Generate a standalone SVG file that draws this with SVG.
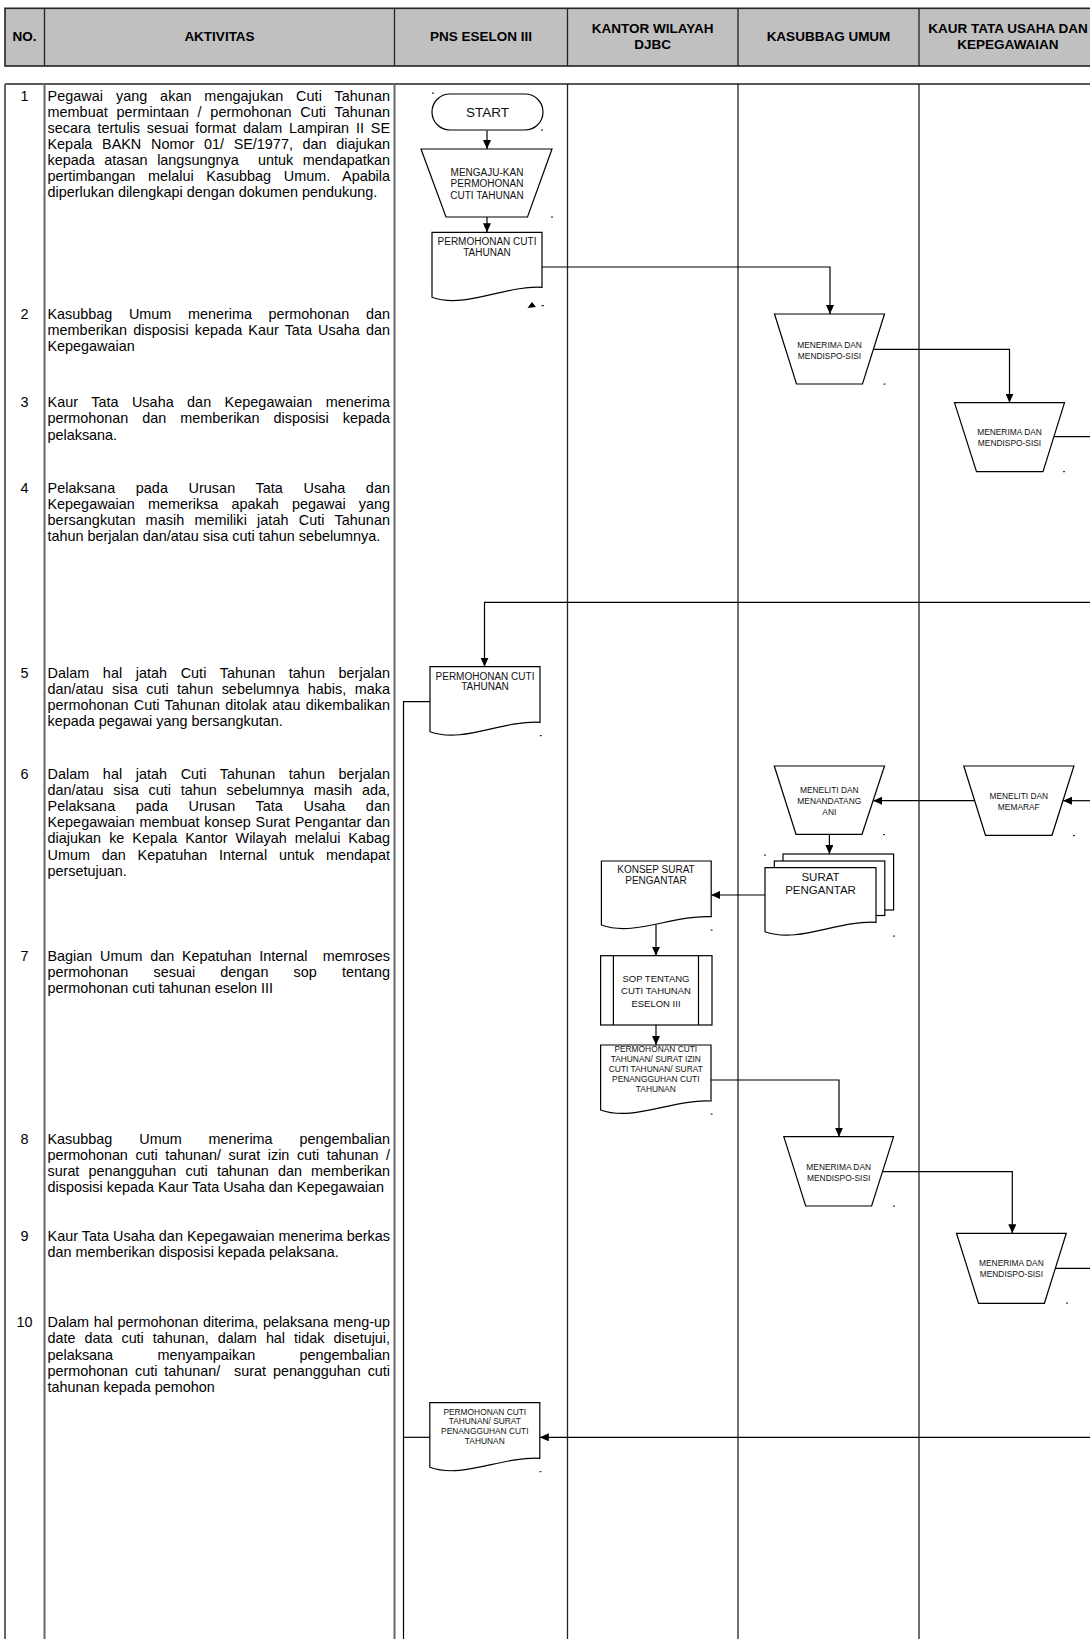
<svg xmlns="http://www.w3.org/2000/svg" width="1090" height="1639" viewBox="0 0 1090 1639">
<style>
.hd{font-family:"Liberation Sans",Arial,sans-serif;font-weight:bold;font-size:13.5px;text-anchor:middle;fill:#000}
.bd{font-family:"Liberation Sans",Arial,sans-serif;font-size:14.4px;fill:#000}
.num{text-anchor:middle}
.sh{fill:#fff;stroke:#000;stroke-width:1.2}
.st{font-family:"Liberation Sans",Arial,sans-serif;text-anchor:middle;fill:#111}
.s10{font-size:10px}
.s84{font-size:8.4px}
.s95{font-size:9.5px}
.s115{font-size:11.5px}
.s135{font-size:13.5px}
.cn{fill:none;stroke:#000;stroke-width:1.2}
.gl{stroke:#666;stroke-width:2}
.dl{stroke:#222;stroke-width:1.3}
.mk{fill:#333}
</style>
<defs>
<marker id="ah" markerWidth="9" markerHeight="8" refX="9" refY="4" orient="auto" markerUnits="userSpaceOnUse"><path d="M0,0 L9,4 L0,8 Z" fill="#000"/></marker>
</defs>
<rect x="0" y="0" width="1090" height="1639" fill="#fff"/>

<g id="header">
<rect x="5" y="8.3" width="1095" height="57.7" fill="#c0c0c0" stroke="#222" stroke-width="1.6"/>
<line x1="44.5" y1="8.3" x2="44.5" y2="66" class="dl"/>
<line x1="394.5" y1="8.3" x2="394.5" y2="66" class="dl"/>
<line x1="567.5" y1="8.3" x2="567.5" y2="66" class="dl"/>
<line x1="738" y1="8.3" x2="738" y2="66" class="dl"/>
<line x1="919" y1="8.3" x2="919" y2="66" class="dl"/>
<text class="hd" x="24.5" y="40.5">NO.</text>
<text class="hd" x="219.5" y="40.5">AKTIVITAS</text>
<text class="hd" x="481" y="40.5">PNS ESELON III</text>
<text class="hd" x="652.7" y="32.8">KANTOR WILAYAH</text>
<text class="hd" x="652.7" y="49">DJBC</text>
<text class="hd" x="828.5" y="40.5">KASUBBAG UMUM</text>
<text class="hd" x="1008" y="32.8">KAUR TATA USAHA DAN</text>
<text class="hd" x="1008" y="49">KEPEGAWAIAN</text>
</g>

<g id="table">
<line x1="5" y1="84" x2="1090" y2="84" stroke="#222" stroke-width="1.6"/>
<line x1="5" y1="84" x2="5" y2="1639" class="gl"/>
<line x1="44.5" y1="84" x2="44.5" y2="1639" class="gl"/>
<line x1="394.5" y1="84" x2="394.5" y2="1639" class="gl"/>
<line x1="567.5" y1="84" x2="567.5" y2="1639" class="dl"/>
<line x1="738" y1="84" x2="738" y2="1639" class="dl"/>
<line x1="919" y1="84" x2="919" y2="1639" class="dl"/>
</g>

<g id="numbers" class="bd num">
<text x="24.5" y="100.5">1</text>
<text x="24.5" y="319">2</text>
<text x="24.5" y="407.2">3</text>
<text x="24.5" y="492.7">4</text>
<text x="24.5" y="678">5</text>
<text x="24.5" y="778.8">6</text>
<text x="24.5" y="961">7</text>
<text x="24.5" y="1143.5">8</text>
<text x="24.5" y="1241">9</text>
<text x="24.5" y="1327.3">10</text>
</g>

<g id="aktivitas" class="bd">
<text x="47.5" y="100.5" word-spacing="8.78" textLength="342.5" lengthAdjust="spacing">Pegawai yang akan mengajukan Cuti Tahunan</text>
<text x="47.5" y="116.65" word-spacing="4.64" textLength="342.5" lengthAdjust="spacing">membuat permintaan / permohonan Cuti Tahunan</text>
<text x="47.5" y="132.8" word-spacing="2.86" textLength="342.5" lengthAdjust="spacing">secara tertulis sesuai format dalam Lampiran II SE</text>
<text x="47.5" y="148.95" word-spacing="5.72" textLength="342.5" lengthAdjust="spacing">Kepala BAKN Nomor 01/ SE/1977, dan diajukan</text>
<text x="47.5" y="165.1" word-spacing="5.58" textLength="342.5" lengthAdjust="spacing">kepada atasan langsungnya&#160; untuk mendapatkan</text>
<text x="47.5" y="181.25" word-spacing="8.75" textLength="342.5" lengthAdjust="spacing">pertimbangan melalui Kasubbag Umum. Apabila</text>
<text x="47.5" y="197.4">diperlukan dilengkapi dengan dokumen pendukung.</text>

<text x="47.5" y="319" word-spacing="12.6" textLength="342.5" lengthAdjust="spacing">Kasubbag Umum menerima permohonan dan</text>
<text x="47.5" y="335.15" word-spacing="2.0" textLength="342.5" lengthAdjust="spacing">memberikan disposisi kepada Kaur Tata Usaha dan</text>
<text x="47.5" y="351.3">Kepegawaian</text>

<text x="47.5" y="407.2" word-spacing="9.28" textLength="342.5" lengthAdjust="spacing">Kaur Tata Usaha dan Kepegawaian menerima</text>
<text x="47.5" y="423.35" word-spacing="10" textLength="342.5" lengthAdjust="spacing">permohonan dan memberikan disposisi kepada</text>
<text x="47.5" y="439.5">pelaksana.</text>

<text x="47.5" y="492.7" word-spacing="16.48" textLength="342.5" lengthAdjust="spacing">Pelaksana pada Urusan Tata Usaha dan</text>
<text x="47.5" y="508.85" word-spacing="9.2" textLength="342.5" lengthAdjust="spacing">Kepegawaian memeriksa apakah pegawai yang</text>
<text x="47.5" y="525" word-spacing="6.08" textLength="342.5" lengthAdjust="spacing">bersangkutan masih memiliki jatah Cuti Tahunan</text>
<text x="47.5" y="541.15">tahun berjalan dan/atau sisa cuti tahun sebelumnya.</text>

<text x="47.5" y="678" word-spacing="9.46" textLength="342.5" lengthAdjust="spacing">Dalam hal jatah Cuti Tahunan tahun berjalan</text>
<text x="47.5" y="694.15" word-spacing="4.52" textLength="342.5" lengthAdjust="spacing">dan/atau sisa cuti tahun sebelumnya habis, maka</text>
<text x="47.5" y="710.3" word-spacing="1.26" textLength="342.5" lengthAdjust="spacing">permohonan Cuti Tahunan ditolak atau dikembalikan</text>
<text x="47.5" y="726.45">kepada pegawai yang bersangkutan.</text>

<text x="47.5" y="778.8" word-spacing="9.46" textLength="342.5" lengthAdjust="spacing">Dalam hal jatah Cuti Tahunan tahun berjalan</text>
<text x="47.5" y="794.95" word-spacing="5.72" textLength="342.5" lengthAdjust="spacing">dan/atau sisa cuti tahun sebelumnya masih ada,</text>
<text x="47.5" y="811.1" word-spacing="16.48" textLength="342.5" lengthAdjust="spacing">Pelaksana pada Urusan Tata Usaha dan</text>
<text x="47.5" y="827.25" word-spacing="0.78" textLength="342.5" lengthAdjust="spacing">Kepegawaian membuat konsep Surat Pengantar dan</text>
<text x="47.5" y="843.4" word-spacing="4.0" textLength="342.5" lengthAdjust="spacing">diajukan ke Kepala Kantor Wilayah melalui Kabag</text>
<text x="47.5" y="859.55" word-spacing="7.82" textLength="342.5" lengthAdjust="spacing">Umum dan Kepatuhan Internal untuk mendapat</text>
<text x="47.5" y="875.7">persetujuan.</text>

<text x="47.5" y="961" word-spacing="3.73" textLength="342.5" lengthAdjust="spacing">Bagian Umum dan Kepatuhan Internal&#160; memroses</text>
<text x="47.5" y="977.15" word-spacing="21.18" textLength="342.5" lengthAdjust="spacing">permohonan sesuai dengan sop tentang</text>
<text x="47.5" y="993.3">permohonan cuti tahunan eselon III</text>

<text x="47.5" y="1143.5" word-spacing="22.93" textLength="342.5" lengthAdjust="spacing">Kasubbag Umum menerima pengembalian</text>
<text x="47.5" y="1159.65" word-spacing="3.71" textLength="342.5" lengthAdjust="spacing">permohonan cuti tahunan/ surat izin cuti tahunan /</text>
<text x="47.5" y="1175.8" word-spacing="5.24" textLength="342.5" lengthAdjust="spacing">surat penangguhan cuti tahunan dan memberikan</text>
<text x="47.5" y="1191.95">disposisi kepada Kaur Tata Usaha dan Kepegawaian</text>

<text x="47.5" y="1241" textLength="342.5" lengthAdjust="spacing">Kaur Tata Usaha dan Kepegawaian menerima berkas</text>
<text x="47.5" y="1257.15">dan memberikan disposisi kepada pelaksana.</text>

<text x="47.5" y="1327.3" word-spacing="0.64" textLength="342.5" lengthAdjust="spacing">Dalam hal permohonan diterima, pelaksana meng-up</text>
<text x="47.5" y="1343.45" word-spacing="5.11" textLength="342.5" lengthAdjust="spacing">date data cuti tahunan, dalam hal tidak disetujui,</text>
<text x="47.5" y="1359.6" word-spacing="40.4" textLength="342.5" lengthAdjust="spacing">pelaksana menyampaikan pengembalian</text>
<text x="47.5" y="1375.75" word-spacing="3.02" textLength="342.5" lengthAdjust="spacing">permohonan cuti tahunan/&#160; surat penangguhan cuti</text>
<text x="47.5" y="1391.9">tahunan kepada pemohon</text>
</g>

<g id="connectors">
<path class="cn" d="M487,130.5 V149" marker-end="url(#ah)"/>
<path class="cn" d="M487,217 V232.3" marker-end="url(#ah)"/>
<path class="cn" d="M542,267 H830 V314" marker-end="url(#ah)"/>
<path class="cn" d="M873.5,349.3 H1009.5 V402.7" marker-end="url(#ah)"/>
<path class="cn" d="M1053.9,436.7 H1090"/>
<path class="cn" d="M1090,602.3 H484.5 V666.7" marker-end="url(#ah)"/>
<path class="cn" d="M430,701.7 H403.5 V1639"/>
<path class="cn" d="M1090,800.7 H1063" marker-end="url(#ah)"/>
<path class="cn" d="M974.7,800.7 H873.1" marker-end="url(#ah)"/>
<path class="cn" d="M829.4,834.3 V854" marker-end="url(#ah)"/>
<path class="cn" d="M765,895 H711.2" marker-end="url(#ah)"/>
<path class="cn" d="M656,924.6 V955.7" marker-end="url(#ah)"/>
<path class="cn" d="M656,1025 V1045" marker-end="url(#ah)"/>
<path class="cn" d="M711,1080 H839 V1136.7" marker-end="url(#ah)"/>
<path class="cn" d="M882.5,1171.7 H1012.3 V1233.3" marker-end="url(#ah)"/>
<path class="cn" d="M1055.4,1268.3 H1090"/>
<path class="cn" d="M1090,1437.3 H539.8" marker-end="url(#ah)"/>
<path class="cn" d="M403.5,1437.3 H429.8"/>
</g>

<g id="n-start">
<rect class="sh" x="432" y="94" width="111" height="36" rx="18"/>
<text class="st s135" x="487.5" y="117">START</text>
</g>
<g id="n-mengajukan">
<polygon class="sh" points="421,149 552,149 527.5,217 446,217"/>
<text class="st s10" x="487" y="175.9">MENGAJU-KAN</text>
<text class="st s10" x="487" y="187.3">PERMOHONAN</text>
<text class="st s10" x="487" y="198.6">CUTI TAHUNAN</text>
</g>
<g id="n-doc1">
<path class="sh" d="M432,232.3 H542 V287.3 C503.5,285.3 465,309.3 432,297.3 Z"/>
<text class="st s10" x="487" y="244.6">PERMOHONAN CUTI</text>
<text class="st s10" x="487" y="256.3">TAHUNAN</text>
</g>
<g id="n-kasubbag1">
<polygon class="sh" points="774.5,314 884.5,314 862.5,384 796.5,384"/>
<text class="st s84" x="829.5" y="348">MENERIMA DAN</text>
<text class="st s84" x="829.5" y="359.3">MENDISPO-SISI</text>
</g>
<g id="n-kaur1">
<polygon class="sh" points="954.5,402.7 1064.5,402.7 1043,471.7 976.5,471.7"/>
<text class="st s84" x="1009.5" y="434.7">MENERIMA DAN</text>
<text class="st s84" x="1009.5" y="446">MENDISPO-SISI</text>
</g>
<g id="n-doc2">
<path class="sh" d="M430,666.7 H540 V722.3 C501.5,720.3 463,743.7 430,731.7 Z"/>
<text class="st s10" x="485" y="679.6">PERMOHONAN CUTI</text>
<text class="st s10" x="485" y="690.3">TAHUNAN</text>
</g>
<g id="n-menandatangani">
<polygon class="sh" points="774.3,766 884.5,766 862,834.3 796,834.3"/>
<text class="st s84" x="829.3" y="793">MENELITI DAN</text>
<text class="st s84" x="829.3" y="804.2">MENANDATANG</text>
<text class="st s84" x="829.3" y="815.4">ANI</text>
</g>
<g id="n-memaraf">
<polygon class="sh" points="963.8,766 1073.9,766 1052,835.3 985.5,835.3"/>
<text class="st s84" x="1018.8" y="799">MENELITI DAN</text>
<text class="st s84" x="1018.8" y="810">MEMARAF</text>
</g>
<g id="n-surat-pengantar">
<rect class="sh" x="783" y="854" width="110.6" height="56"/>
<rect class="sh" x="774.3" y="861" width="110.5" height="54.5"/>
<path class="sh" d="M765,867.7 H876 V922.3 C837.2,920.3 798.3,943.7 765,931.7 Z"/>
<text class="st s115" x="820.5" y="880.8">SURAT</text>
<text class="st s115" x="820.5" y="894.1">PENGANTAR</text>
</g>
<g id="n-konsep">
<path class="sh" d="M601.4,861 H711.2 V916.7 C672.8,914.7 634.3,937 601.4,925 Z"/>
<text class="st s10" x="656" y="872.9">KONSEP SURAT</text>
<text class="st s10" x="656" y="883.6">PENGANTAR</text>
</g>
<g id="n-sop">
<rect class="sh" x="600.6" y="955.7" width="111.4" height="69.3"/>
<line x1="613.4" y1="955.7" x2="613.4" y2="1025" stroke="#000" stroke-width="1.2"/>
<line x1="698.5" y1="955.7" x2="698.5" y2="1025" stroke="#000" stroke-width="1.2"/>
<text class="st s95" x="656" y="981.7">SOP TENTANG</text>
<text class="st s95" x="656" y="994.4">CUTI TAHUNAN</text>
<text class="st s95" x="656" y="1007.4">ESELON III</text>
</g>
<g id="n-doc7">
<path class="sh" d="M600.6,1045 H711 V1101 C672.4,1099 633.7,1122 600.6,1110 Z"/>
<text class="st s84" x="655.8" y="1052.3">PERMOHONAN CUTI</text>
<text class="st s84" x="655.8" y="1062.3">TAHUNAN/ SURAT IZIN</text>
<text class="st s84" x="655.8" y="1072.3">CUTI TAHUNAN/ SURAT</text>
<text class="st s84" x="655.8" y="1082">PENANGGUHAN CUTI</text>
<text class="st s84" x="655.8" y="1092">TAHUNAN</text>
</g>
<g id="n-kasubbag2">
<polygon class="sh" points="783.8,1136.7 893.6,1136.7 871.6,1206 805.7,1206"/>
<text class="st s84" x="838.7" y="1169.7">MENERIMA DAN</text>
<text class="st s84" x="838.7" y="1180.7">MENDISPO-SISI</text>
</g>
<g id="n-kaur2">
<polygon class="sh" points="956.5,1233.3 1066.3,1233.3 1044.4,1303.3 978.5,1303.3"/>
<text class="st s84" x="1011.4" y="1266.3">MENERIMA DAN</text>
<text class="st s84" x="1011.4" y="1277.3">MENDISPO-SISI</text>
</g>
<g id="n-doc10">
<path class="sh" d="M429.8,1402.7 H539.8 V1458.3 C501.3,1456.3 462.8,1479.3 429.8,1467.3 Z"/>
<text class="st s84" x="484.8" y="1414.7">PERMOHONAN CUTI</text>
<text class="st s84" x="484.8" y="1424.4">TAHUNAN/ SURAT</text>
<text class="st s84" x="484.8" y="1434">PENANGGUHAN CUTI</text>
<text class="st s84" x="484.8" y="1443.7">TAHUNAN</text>
</g>

<g id="marks">
<polygon points="527.5,308 532,302 536,307" fill="#000"/>
<rect class="mk" x="432" y="92.5" width="2" height="1.2"/>
<rect class="mk" x="541" y="129.5" width="2" height="1.2"/>
<rect class="mk" x="551" y="216.5" width="2" height="1.2"/>
<rect class="mk" x="541.5" y="305" width="2.5" height="1.2"/>
<rect class="mk" x="883.5" y="383.5" width="2" height="1.2"/>
<rect class="mk" x="1063" y="471" width="2" height="1.2"/>
<rect class="mk" x="539.8" y="735" width="2" height="1.2"/>
<rect class="mk" x="883" y="834" width="2" height="1.2"/>
<rect class="mk" x="1073" y="835" width="2" height="1.2"/>
<rect class="mk" x="764" y="854.5" width="2" height="1.2"/>
<rect class="mk" x="893" y="935.5" width="2" height="1.2"/>
<rect class="mk" x="710.5" y="929.5" width="2" height="1.2"/>
<rect class="mk" x="710.5" y="1113.5" width="2" height="1.2"/>
<rect class="mk" x="893" y="1205.5" width="2" height="1.2"/>
<rect class="mk" x="1066" y="1302.5" width="2" height="1.2"/>
<rect class="mk" x="539.5" y="1471" width="2" height="1.2"/>
</g>
</svg>
